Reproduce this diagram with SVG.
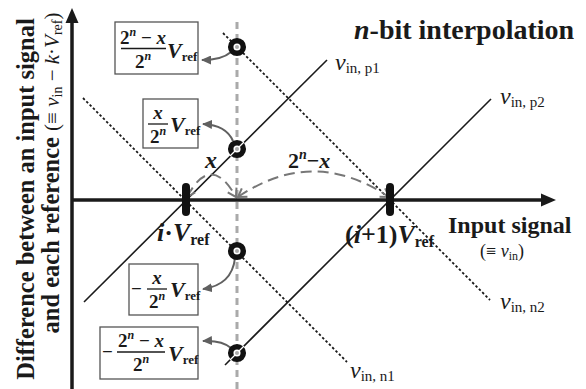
<svg xmlns="http://www.w3.org/2000/svg" width="586" height="389" viewBox="0 0 586 389" font-family="'Liberation Serif', 'DejaVu Serif', serif">
<style>
text{font-family:'Liberation Serif','DejaVu Serif',serif;fill:#1a1a1a}
.b{font-weight:bold}
.i{font-style:italic}
.box{fill:#fff;stroke:#555;stroke-width:1.3}
.bar{stroke:#1a1a1a;stroke-width:1.3}
.axis{stroke:#1a1a1a;stroke-width:3.5;fill:none}
.solid{stroke:#1a1a1a;stroke-width:1.6;fill:none}
.dot{stroke:#1a1a1a;stroke-width:1.8;stroke-dasharray:2.5,2.2;fill:none}
.gdash{stroke:#aaa;stroke-width:3;stroke-dasharray:7,5;fill:none}
.arc{stroke:#777;stroke-width:2;stroke-dasharray:11,6;fill:none}
.garr{stroke:#606060;stroke-width:2;fill:none}
.ring{fill:#fff;stroke:#111;stroke-width:5.5}
.tick{stroke:#111;stroke-width:8;stroke-linecap:round}
</style>
<defs>
<marker id="ah" markerUnits="userSpaceOnUse" markerWidth="11" markerHeight="9" refX="9" refY="4.5" orient="auto"><path d="M0,0 L10,4.5 L0,9 z" fill="#606060"/></marker>
<marker id="chev" markerUnits="userSpaceOnUse" markerWidth="12" markerHeight="12" refX="9" refY="6" orient="auto-start-reverse"><path d="M1,1 L9,6 L1,11" fill="none" stroke="#777" stroke-width="2"/></marker>
</defs>

<g id="title"><text class="b" x="354" y="39" font-size="28"><tspan class="i">n</tspan>-bit interpolation</text></g>

<g id="ylabel">
<text class="b" transform="translate(34,199) rotate(-90)" text-anchor="middle" font-size="24.5">Difference between an input signal</text>
<text transform="translate(59,173) rotate(-90)" text-anchor="middle" font-size="24.5"><tspan class="b">and each reference </tspan><tspan font-size="21">(≡ </tspan><tspan class="i" font-size="21">v</tspan><tspan font-size="14" dy="3">in</tspan><tspan font-size="21" dy="-3"> − </tspan><tspan class="i" font-size="21">k</tspan><tspan font-size="21">·</tspan><tspan class="i" font-size="21">V</tspan><tspan font-size="14" dy="3">ref</tspan><tspan font-size="21" dy="-3">)</tspan></text>
</g>

<g id="connectors">
<line class="gdash" x1="237" y1="22" x2="237" y2="389"/>
<line class="solid" x1="84" y1="302" x2="327" y2="60"/>
<line class="solid" x1="225" y1="365" x2="491" y2="99"/>
<line class="dot" x1="223" y1="33" x2="490" y2="300"/>
<line class="dot" x1="83" y1="98" x2="347" y2="362"/>
<path class="arc" d="M187,197 Q211,152 236,197" marker-start="url(#chev)" marker-end="url(#chev)"/>
<path class="arc" d="M238,197 Q313,146 389,197" marker-start="url(#chev)" marker-end="url(#chev)"/>
<path class="garr" d="M231,52 Q222,60 202,60" marker-end="url(#ah)"/>
<path class="garr" d="M233,141 Q226,125 203,124" marker-end="url(#ah)"/>
<path class="garr" d="M235,258 Q232,285 203,289" marker-end="url(#ah)"/>
<path class="garr" d="M231,348 Q222,340 203,341" marker-end="url(#ah)"/>
</g>

<g id="axes">
<line class="axis" x1="72" y1="389" x2="72" y2="20"/>
<polygon points="72,8 65.5,23 78.5,23" fill="#1a1a1a"/>
<line class="axis" x1="72" y1="200" x2="543" y2="200"/>
<polygon points="556,200 541,193.5 541,206.5" fill="#1a1a1a"/>
</g>

<g id="tick-i"><line class="tick" x1="186" y1="187" x2="186" y2="212"/></g>
<g id="tick-i1"><line class="tick" x1="390" y1="187" x2="390" y2="212"/></g>

<g id="ring1"><circle class="ring" cx="237" cy="47" r="6.3"/><circle cx="237" cy="47" r="2" fill="#aaa"/></g>
<g id="ring2"><circle class="ring" cx="237" cy="149" r="6.3"/><line x1="230" y1="156" x2="244" y2="142" stroke="#fff" stroke-width="1.3"/><circle cx="237" cy="149" r="2" fill="#aaa"/></g>
<g id="ring3"><circle class="ring" cx="237" cy="251" r="6.3"/><circle cx="237" cy="251" r="2" fill="#aaa"/></g>
<g id="ring4"><circle class="ring" cx="237" cy="353" r="6.3"/><line x1="230" y1="360" x2="244" y2="346" stroke="#fff" stroke-width="1.3"/><circle cx="237" cy="353" r="2" fill="#aaa"/></g>

<g id="box1">
<rect class="box" x="115" y="22" width="83" height="52"/>
<text class="b" x="143" y="44" text-anchor="middle" font-size="19">2<tspan class="i" font-size="12" dy="-8">n</tspan><tspan dy="8"> − </tspan><tspan class="i">x</tspan></text>
<line class="bar" x1="121" y1="48.5" x2="166" y2="48.5"/>
<text class="b" x="143" y="68" text-anchor="middle" font-size="19">2<tspan class="i" font-size="12" dy="-8">n</tspan></text>
<text class="b" x="167" y="58" font-size="22"><tspan class="i">V</tspan><tspan font-size="13" dy="3">ref</tspan></text>
</g>

<g id="box2">
<rect class="box" x="143" y="99" width="55" height="49"/>
<text class="b i" x="158" y="119" text-anchor="middle" font-size="19">x</text>
<line class="bar" x1="148" y1="124" x2="168" y2="124"/>
<text class="b" x="158" y="143" text-anchor="middle" font-size="19">2<tspan class="i" font-size="12" dy="-8">n</tspan></text>
<text class="b" x="170" y="132" font-size="22"><tspan class="i">V</tspan><tspan font-size="13" dy="3">ref</tspan></text>
</g>

<g id="box3">
<rect class="box" x="129" y="264" width="69" height="51"/>
<text class="b" x="131" y="295" font-size="19">−</text>
<text class="b i" x="157" y="284" text-anchor="middle" font-size="19">x</text>
<line class="bar" x1="147" y1="289" x2="167" y2="289"/>
<text class="b" x="157" y="308" text-anchor="middle" font-size="19">2<tspan class="i" font-size="12" dy="-8">n</tspan></text>
<text class="b" x="170" y="297" font-size="22"><tspan class="i">V</tspan><tspan font-size="13" dy="3">ref</tspan></text>
</g>

<g id="box4">
<rect class="box" x="100" y="327" width="98" height="52"/>
<text class="b" x="102" y="358" font-size="19">−</text>
<text class="b" x="141" y="347" text-anchor="middle" font-size="19">2<tspan class="i" font-size="12" dy="-8">n</tspan><tspan dy="8"> − </tspan><tspan class="i">x</tspan></text>
<line class="bar" x1="117" y1="352" x2="165" y2="352"/>
<text class="b" x="141" y="371" text-anchor="middle" font-size="19">2<tspan class="i" font-size="12" dy="-8">n</tspan></text>
<text class="b" x="168" y="361" font-size="22"><tspan class="i">V</tspan><tspan font-size="13" dy="3">ref</tspan></text>
</g>

<g id="labels">
<text x="335" y="70" font-size="24"><tspan class="i">v</tspan><tspan font-size="15" dy="3">in, p1</tspan></text>
<text x="500" y="104" font-size="24"><tspan class="i">v</tspan><tspan font-size="15" dy="3">in, p2</tspan></text>
<text x="500" y="309" font-size="24"><tspan class="i">v</tspan><tspan font-size="15" dy="3">in, n2</tspan></text>
<text x="350" y="378" font-size="24"><tspan class="i">v</tspan><tspan font-size="15" dy="3">in, n1</tspan></text>
<text class="b i" x="205" y="168" font-size="24">x</text>
<text class="b" x="288" y="168" font-size="22">2<tspan class="i" font-size="14" dy="-9">n</tspan><tspan dy="9">−</tspan><tspan class="i">x</tspan></text>
<text class="b" x="157" y="241" font-size="26"><tspan class="i">i</tspan>·<tspan class="i">V</tspan><tspan font-size="16" dy="4">ref</tspan></text>
<text class="b" x="345" y="243" font-size="26">(<tspan class="i">i</tspan>+1)<tspan class="i">V</tspan><tspan font-size="16" dy="4">ref</tspan></text>
<text class="b" x="448" y="233" font-size="24">Input signal</text>
<text x="480" y="257" font-size="18">(≡ <tspan class="i">v</tspan><tspan font-size="12" dy="3">in</tspan><tspan dy="-3">)</tspan></text>
</g>
</svg>
